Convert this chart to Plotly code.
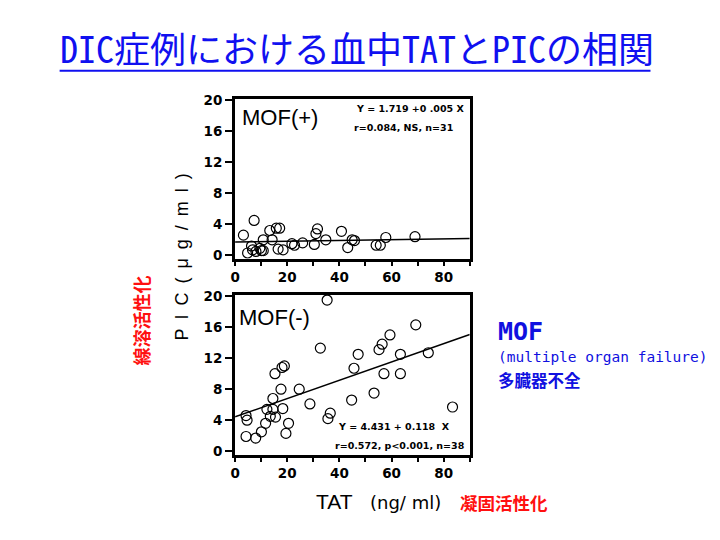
import plotly.graph_objects as go

# MOF(+) data
tat_pos = [3.2, 4.8, 6.3, 6.7, 7.3, 8.0, 9.5, 10.1, 10.8, 10.8, 13.3, 14.2, 15.8, 17.1, 16.5,
           18.4, 21.8, 22.8, 25.9, 30.4, 31.0, 31.6, 34.8, 40.8, 43.2, 44.9, 45.8, 54.1, 55.7,
           57.8, 69.0]
pic_pos = [2.6, 0.3, 1.2, 0.7, 4.5, 0.5, 0.9, 0.6, 2.0, 0.6, 3.2, 2.0, 3.5, 3.5, 0.8,
           0.7, 1.5, 1.3, 1.6, 1.4, 2.8, 3.4, 2.0, 3.1, 1.0, 2.0, 1.9, 1.3, 1.3,
           2.3, 2.4]
# MOF(-) data
tat_neg = [4.2, 4.6, 4.2, 7.9, 10.1, 11.7, 12.2, 13.5, 14.5, 14.5, 15.5, 15.3, 17.6, 18.0,
           18.9, 18.3, 19.5, 20.5, 24.6, 28.7, 32.7, 35.3, 35.6, 36.5, 44.7, 45.6, 47.2,
           53.3, 55.2, 56.4, 57.1, 59.4, 63.4, 63.4, 69.3, 74.1, 83.4]
pic_neg = [4.6, 4.0, 1.9, 1.7, 2.5, 3.6, 5.4, 4.5, 5.4, 6.8, 4.4, 10.0, 8.0, 10.8,
           11.0, 5.5, 2.3, 3.6, 8.0, 6.1, 13.3, 19.5, 4.2, 4.9, 6.6, 10.7, 12.5,
           7.5, 13.1, 13.8, 10.0, 15.0, 12.5, 10.0, 16.3, 12.7, 5.7]

# regression coefficients (intercept, slope)
reg_pos = (1.719, 0.005)
reg_neg = (4.431, 0.118)
x_line = [0, 90]

x_ticks = [0, 20, 40, 60, 80]
y_ticks = [0, 4, 8, 12, 16, 20]

fig = go.Figure()
marker = dict(symbol="circle-open", size=10, color="black", line=dict(width=1.2, color="black"))

fig.add_trace(go.Scatter(x=tat_pos, y=pic_pos, mode="markers", marker=marker,
                         xaxis="x", yaxis="y", showlegend=False))
fig.add_trace(go.Scatter(x=x_line, y=[reg_pos[0] + reg_pos[1] * v for v in x_line], mode="lines",
                         line=dict(color="black", width=1.5), xaxis="x", yaxis="y", showlegend=False))
fig.add_trace(go.Scatter(x=tat_neg, y=pic_neg, mode="markers", marker=marker,
                         xaxis="x2", yaxis="y2", showlegend=False))
fig.add_trace(go.Scatter(x=x_line, y=[reg_neg[0] + reg_neg[1] * v for v in x_line], mode="lines",
                         line=dict(color="black", width=1.5), xaxis="x2", yaxis="y2", showlegend=False))

tickfont = dict(family="DejaVu Sans", size=13.5, color="black", weight="bold")
xcommon = dict(range=[0, 90], tickvals=x_ticks, showline=True, mirror=True, linewidth=3,
               linecolor="black", ticks="outside", ticklen=4, tickwidth=2, tickcolor="black",
               showgrid=False, zeroline=False, tickfont=tickfont, fixedrange=True,
               minor=dict(dtick=10, ticks="outside", ticklen=4, tickwidth=2, tickcolor="black"))
ycommon = dict(range=[-0.45, 20.15], tickvals=y_ticks, showline=True, mirror=True, linewidth=3,
               linecolor="black", ticks="outside", ticklen=7, tickwidth=2, tickcolor="black",
               showgrid=False, zeroline=False, tickfont=tickfont, fixedrange=True)

fig.update_layout(
    width=720, height=540, autosize=False,
    margin=dict(l=0, r=0, t=0, b=0),
    paper_bgcolor="white", plot_bgcolor="white",
    xaxis=dict(domain=[0.3218, 0.65], anchor="y", **xcommon),
    yaxis=dict(domain=[0.524, 0.826], anchor="x", **ycommon),
    xaxis2=dict(domain=[0.3218, 0.65], anchor="y2", **xcommon),
    yaxis2=dict(domain=[0.1537, 0.4556], anchor="x2", **ycommon),
)

def ann(text, x, y, size, color="black", family="Liberation Sans, Arial", xanchor="left",
        angle=0, weight="normal"):
    fig.add_annotation(text=text, x=x / 720, y=1 - y / 540, xref="paper", yref="paper",
                       xanchor=xanchor, yanchor="middle", showarrow=False, textangle=angle,
                       font=dict(size=size, color=color, family=family, weight=weight))

# title
ann("DIC症例における血中TATとPICの相関", 53, 41, 36, color="#1010F0",
    family="Noto Sans Mono CJK JP, Noto Sans CJK JP")
fig.add_shape(type="line", xref="paper", yref="paper", x0=55 / 720, x1=650 / 720,
              y0=1 - 65 / 540, y1=1 - 65 / 540, line=dict(color="#1010F0", width=2))

# panel labels
ann("MOF(+)", 237, 113, 22)
ann("MOF(-)", 234, 317, 22)
eqfont = "DejaVu Sans"
ann("Y = 1.719 +0 .005 X", 351, 104, 9.5, family=eqfont, weight="bold")
ann("r=0.084, NS, n=31", 349, 123, 9.5, family=eqfont, weight="bold")
ann("Y = 4.431 + 0.118  X", 333, 428, 9.5, family=eqfont, weight="bold")
ann("r=0.572, p<0.001, n=38", 330, 448, 9.5, family=eqfont, weight="bold")

# axis titles
sp = "\u2002"
ann(sp.join(["P", "I", "C", "(", "μ", "g", "/", "m", "l", ")"]), 178, 255, 18,
    xanchor="center", angle=-90)
ann("線溶活性化", 137, 320, 18, color="#FF1010", family="Noto Sans CJK JP",
    xanchor="center", angle=-90, weight="bold")
ann("TAT", 311, 505, 21)
ann("(ng/ ml)", 366, 506, 18, family="DejaVu Sans")
ann("凝固活性化", 456, 506, 17.5, color="#FF1010", family="Noto Sans CJK JP", weight="bold")

# MOF legend text
ann("MOF", 494, 331, 25, color="#1010E0", family="DejaVu Sans Mono", weight="bold")
ann("(multiple organ failure)", 494, 357, 14.5, color="#1010E0", family="DejaVu Sans Mono")
ann("多臓器不全", 494, 381, 16.5, color="#1010E0", family="Noto Sans CJK JP", weight="bold")

fig.write_html("out.html")
